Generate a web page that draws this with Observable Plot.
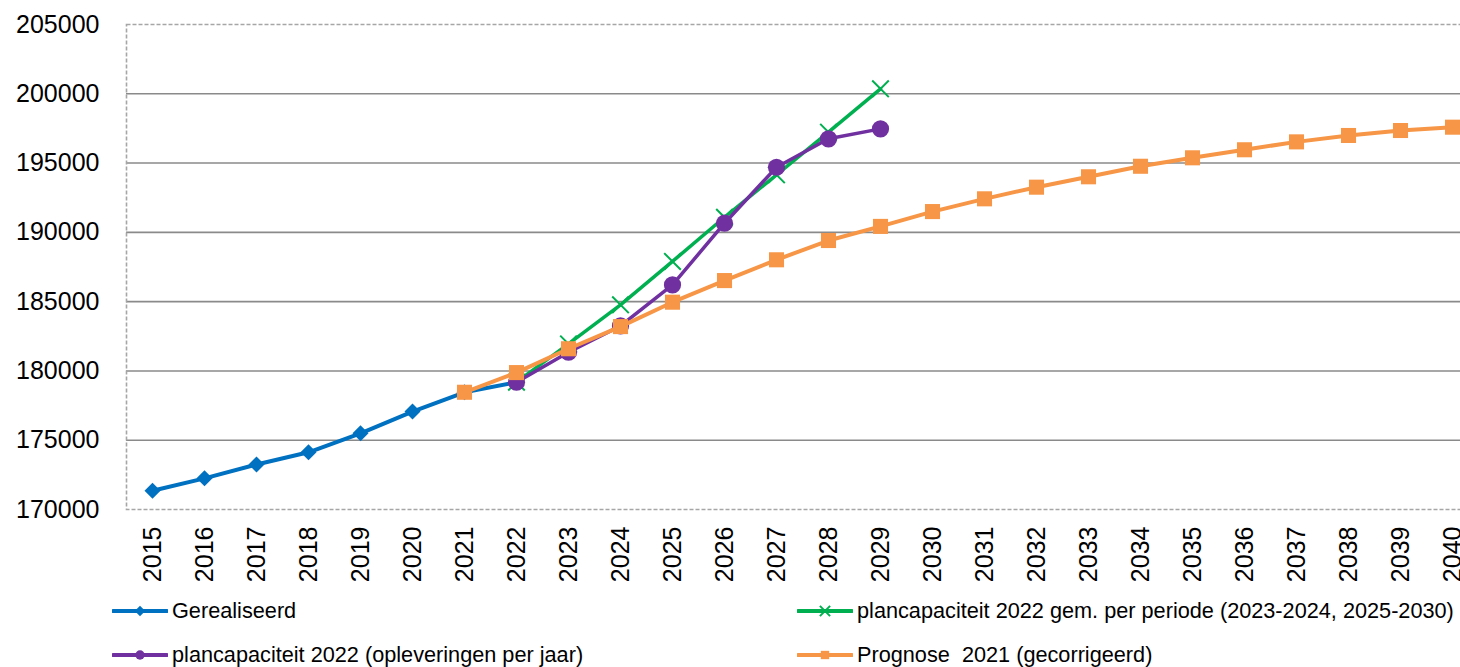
<!DOCTYPE html>
<html>
<head>
<meta charset="utf-8">
<script src="https://cdn.jsdelivr.net/npm/d3@7"></script>
<script src="https://cdn.jsdelivr.net/npm/@observablehq/plot@0.6"></script>
<style>
  html, body { margin: 0; padding: 0; overflow: hidden; background: #fff; }
  body { width: 1460px; height: 667px; font-family: "Liberation Sans", Arial, sans-serif; }
  #chart svg { max-width: none !important; display: block; }
  #legend { position: relative; width: 1460px; height: 77px; }
  .item { position: absolute; display: flex; align-items: center; font-size: 21.7px; color: #000; white-space: pre; }
  .item svg { margin-right: 4px; }
</style>
</head>
<body>
<div id="chart"></div>
<div id="legend"></div>
<script>
// ---- data ----
const years = d3.range(2015, 2041).map(String);
const yTicks = [170000, 175000, 180000, 185000, 190000, 195000, 200000, 205000];

const gerealiseerdYears = ["2015","2016","2017","2018","2019","2020","2021","2022"];
const gerealiseerd = [171350, 172250, 173250, 174130, 175500, 177070, 178460, 179190];

const planGemYears = ["2022","2023","2024","2025","2026","2027","2028","2029"];
const planGem = [179190, 181950, 184770, 187900, 191090, 194150, 197230, 200360];

const planJaarYears = ["2022","2023","2024","2025","2026","2027","2028","2029"];
const planJaar = [179190, 181350, 183250, 186210, 190660, 194700, 196750, 197470];

const prognoseYears = ["2021","2022","2023","2024","2025","2026","2027","2028","2029","2030",
  "2031","2032","2033","2034","2035","2036","2037","2038","2039","2040"];
const prognose = [178460, 179880, 181600, 183200, 184960, 186520, 188020, 189410, 190430, 191500,
  192420, 193260, 194010, 194770, 195380, 195960, 196530, 196990, 197350, 197590];

const seriesNames = [
  "Gerealiseerd",
  "plancapaciteit 2022 gem. per periode (2023-2024, 2025-2030)",
  "plancapaciteit 2022 (opleveringen per jaar)",
  "Prognose  2021 (gecorrigeerd)"
];
const colors = ["#0070C0", "#00B050", "#7030A0", "#F79646"];

const toRows = (ys, vs) => ys.map((year, i) => ({year, value: vs[i]}));
const blue = toRows(gerealiseerdYears, gerealiseerd);
const green = toRows(planGemYears, planGem);
const purple = toRows(planJaarYears, planJaar);
const orange = toRows(prognoseYears, prognose);

const chart = Plot.plot({
  width: 1478,
  height: 590,
  marginLeft: 126,
  marginRight: 0,
  marginTop: 24,
  marginBottom: 81,
  style: {fontFamily: "Liberation Sans, Arial, sans-serif", background: "#fff", overflow: "visible", maxWidth: "none"},
  x: {type: "point", domain: years, padding: 0.5, label: null},
  y: {domain: [170000, 205000], label: null},
  marks: [
    Plot.gridY(yTicks.slice(1, -1), {stroke: "#8a8a8a", strokeOpacity: 1, strokeWidth: 1.6}),
    Plot.frame({stroke: "#a6a6a6", strokeWidth: 1.6, strokeDasharray: "4,2"}),
    Plot.axisY({ticks: yTicks, tickSize: 0, tickPadding: 27, fontSize: 25, tickFormat: d => String(d), fill: "#000", label: null}),
    Plot.axisX({ticks: years, tickSize: 0, tickPadding: 17, tickRotate: -90, fontSize: 25, fill: "#000", label: null}),
    // Gerealiseerd
    Plot.line(blue, {x: "year", y: "value", stroke: colors[0], strokeWidth: 4}),
    Plot.dot(blue, {x: "year", y: "value", symbol: "diamond2", r: 7.2, fill: colors[0], stroke: "none"}),
    // plancapaciteit gem. per periode
    Plot.line(green, {x: "year", y: "value", stroke: colors[1], strokeWidth: 3.5}),
    Plot.dot(green, {x: "year", y: "value", symbol: "times", r: 7.6, stroke: colors[1], strokeWidth: 2, fill: "none"}),
    // plancapaciteit per jaar
    Plot.line(purple, {x: "year", y: "value", stroke: colors[2], strokeWidth: 3.5}),
    Plot.dot(purple, {x: "year", y: "value", symbol: "circle", r: 8.6, fill: colors[2], stroke: "none"}),
    // Prognose
    Plot.line(orange, {x: "year", y: "value", stroke: colors[3], strokeWidth: 4}),
    Plot.dot(orange, {x: "year", y: "value", symbol: "square", r: 8.5, fill: colors[3], stroke: "none"})
  ]
});
document.getElementById("chart").appendChild(chart);

// ---- legend ----
const legend = d3.select("#legend");
const positions = [
  {left: 112, top: 21},  // Gerealiseerd
  {left: 797, top: 21},  // gem. per periode
  {left: 112, top: 65},  // per jaar
  {left: 797, top: 65}   // Prognose
];
const symbols = ["diamond2", "times", "circle", "square"];
seriesNames.forEach((name, i) => {
  const item = legend.append("div").attr("class", "item")
    .style("left", positions[i].left + "px")
    .style("top", (positions[i].top - 14) + "px")
    .style("height", "28px");
  const svg = item.append("svg").attr("width", 56).attr("height", 20);
  svg.append("line").attr("x1", 1).attr("x2", 55).attr("y1", 10).attr("y2", 10)
    .attr("stroke", colors[i]).attr("stroke-width", 4).attr("stroke-linecap", "round");
  const sym = {diamond2: d3.symbolDiamond2, times: d3.symbolTimes, circle: d3.symbolCircle, square: d3.symbolSquare}[symbols[i]];
  const path = d3.symbol(sym, 70)();
  svg.append("path").attr("d", path).attr("transform", "translate(28,10)")
    .attr("fill", symbols[i] === "times" ? "none" : colors[i])
    .attr("stroke", symbols[i] === "times" ? colors[i] : "none")
    .attr("stroke-width", 2);
  item.append("span").text(name);
});
</script>
</body>
</html>
